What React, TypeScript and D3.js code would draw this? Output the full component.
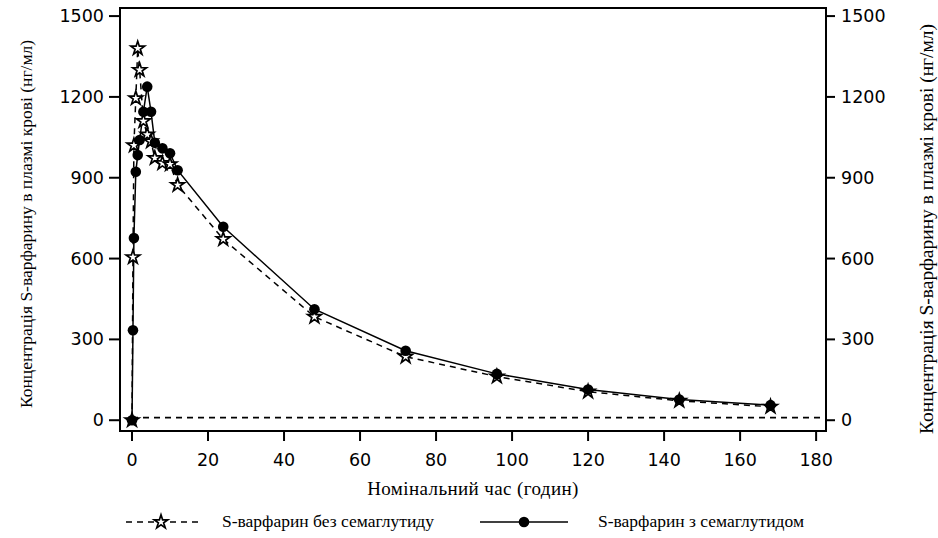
import React from "react";
import * as d3 from "d3";

// Nominal sampling times (hours)
const hours = [0, 0.25, 0.5, 1, 1.5, 2, 3, 4, 5, 6, 8, 10, 12, 24, 48, 72, 96, 120, 144, 168];
// S-warfarin plasma concentration (ng/mL), without semaglutide
const withoutSema = [0, 605, 1020, 1195, 1380, 1300, 1110, 1060, 1035, 973, 954, 950, 873, 672, 384, 236, 162, 106, 72, 50];
// S-warfarin plasma concentration (ng/mL), with semaglutide
const withSema = [0, 334, 676, 922, 984, 1040, 1145, 1238, 1145, 1030, 1009, 991, 928, 718, 412, 258, 172, 114, 77, 56];

const xTicks = [0, 20, 40, 60, 80, 100, 120, 140, 160, 180];
const yTicks = [0, 300, 600, 900, 1200, 1500];
const lloq = 10;

const yTitle = "Концентрація S-варфарину в плазмі крові (нг/мл)";
const xTitle = "Номінальний час (годин)";
const legendWithout = "S-варфарин без семаглутиду";
const legendWith = "S-варфарин з семаглутидом";

const W = 938;
const H = 538;
const frame = { left: 120, right: 826, top: 8, bottom: 431 };

export default function App() {
  const x = d3.scaleLinear().domain([-3.16, 182.6]).range([frame.left, frame.right]);
  const y = d3.scaleLinear().domain([-40, 1530]).range([frame.bottom, frame.top]);

  const line = d3
    .line<number>()
    .x((_, i) => x(hours[i]))
    .y((v) => y(v));

  const star = d3.symbol().type(d3.symbolStar).size(58)();
  const sans = "'DejaVu Sans', Verdana, sans-serif";
  const serif = "'Liberation Serif', 'Times New Roman', serif";

  return (
    <svg
      width={W}
      height={H}
      viewBox={`0 0 ${W} ${H}`}
      style={{ position: "absolute", left: 0, top: 0, background: "#fff" }}
    >
      <rect width={W} height={H} fill="#fff" />

      {/* LLOQ reference line */}
      <line
        x1={x(0)}
        x2={frame.right}
        y1={y(lloq)}
        y2={y(lloq)}
        stroke="#000"
        strokeWidth={1.8}
        strokeDasharray="6,5"
      />

      {/* series lines */}
      <path d={line(withoutSema) || ""} fill="none" stroke="#000" strokeWidth={1.5} strokeDasharray="6,5" />
      <path d={line(withSema) || ""} fill="none" stroke="#000" strokeWidth={1.5} />

      {/* markers */}
      {withoutSema.map((v, i) => (
        <path
          key={`s${i}`}
          d={star}
          transform={`translate(${x(hours[i])},${y(v)})`}
          fill="#fff"
          stroke="#000"
          strokeWidth={1.7}
        />
      ))}
      {withSema.map((v, i) => (
        <circle key={`c${i}`} cx={x(hours[i])} cy={y(v)} r={5.3} fill="#000" />
      ))}

      {/* frame */}
      <rect
        x={frame.left}
        y={frame.top}
        width={frame.right - frame.left}
        height={frame.bottom - frame.top}
        fill="none"
        stroke="#000"
        strokeWidth={2}
      />

      {/* left axis */}
      {yTicks.map((t) => (
        <g key={`yl${t}`}>
          <line x1={frame.left - 11} x2={frame.left} y1={y(t)} y2={y(t)} stroke="#000" strokeWidth={2} />
          <text
            x={frame.left - 16}
            y={y(t)}
            textAnchor="end"
            dominantBaseline="central"
            fontFamily={sans}
            fontSize={17.5}
          >
            {t}
          </text>
        </g>
      ))}

      {/* right axis */}
      {yTicks.map((t) => (
        <g key={`yr${t}`}>
          <line x1={frame.right} x2={frame.right + 9} y1={y(t)} y2={y(t)} stroke="#000" strokeWidth={2} />
          <text
            x={frame.right + 15}
            y={y(t)}
            textAnchor="start"
            dominantBaseline="central"
            fontFamily={sans}
            fontSize={17.5}
          >
            {t}
          </text>
        </g>
      ))}

      {/* bottom axis */}
      {xTicks.map((t) => (
        <g key={`x${t}`}>
          <line x1={x(t)} x2={x(t)} y1={frame.bottom} y2={frame.bottom + 10} stroke="#000" strokeWidth={2} />
          <text x={x(t)} y={466} textAnchor="middle" fontFamily={sans} fontSize={17.5}>
            {t}
          </text>
        </g>
      ))}

      {/* axis titles */}
      <text
        transform={`translate(26,224) rotate(-90)`}
        textAnchor="middle"
        dominantBaseline="central"
        fontFamily={serif}
        fontSize={17.5}
      >
        {yTitle}
      </text>
      <text
        transform={`translate(926,229) rotate(-90)`}
        textAnchor="middle"
        dominantBaseline="central"
        fontFamily={serif}
        fontSize={19.5}
      >
        {yTitle}
      </text>
      <text x={473} y={495} textAnchor="middle" fontFamily={serif} fontSize={19} letterSpacing={0.4}>
        {xTitle}
      </text>

      {/* legend */}
      <g>
        <line x1={126} x2={198} y1={522} y2={522} stroke="#000" strokeWidth={1.5} strokeDasharray="6,5" />
        <path d={star} transform="translate(161,522)" fill="#fff" stroke="#000" strokeWidth={1.7} />
        <text x={222} y={527} fontFamily={serif} fontSize={17.5}>
          {legendWithout}
        </text>
        <line x1={480} x2={568} y1={522} y2={522} stroke="#000" strokeWidth={1.5} />
        <circle cx={524} cy={522} r={5.3} fill="#000" />
        <text x={598} y={527} fontFamily={serif} fontSize={17.5}>
          {legendWith}
        </text>
      </g>
    </svg>
  );
}
